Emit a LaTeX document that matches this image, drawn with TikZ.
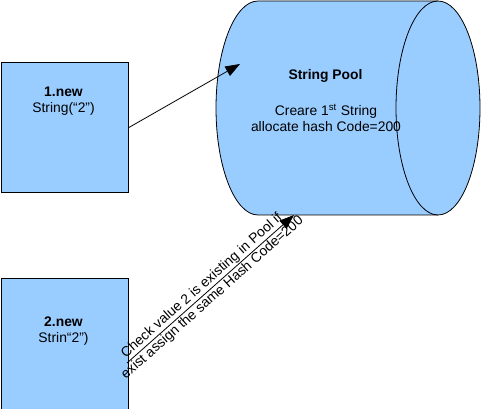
\documentclass[tikz,border=0pt]{standalone}
\usepackage{fontspec}
\setmainfont{Liberation Sans}
\usetikzlibrary{arrows.meta}
\definecolor{poolblue}{HTML}{99CCFF}
\begin{document}
\begin{tikzpicture}[x=0.75pt,y=0.75pt,
  box/.style={draw=black, fill=poolblue, line width=0.75pt, minimum width=95.25pt, inner sep=0pt},
  lbl/.style={font=\fontsize{10.4}{12}\selectfont, align=center, inner sep=0pt},
  conn/.style={line width=0.6pt, -{Triangle[length=11pt,width=8pt]}},
  poolline/.style={draw=black, line width=0.6pt},
]
\useasboundingbox (0,0) rectangle (481,-409);
% boxes
\node[box, minimum height=97.1pt, anchor=north west] (b1) at (0.5,-62.5) {};
\node[box, minimum height=97.9pt, anchor=north west] (b2) at (0.5,-278) {};
\node[lbl] (t1) at (63.5,-101.5) {\textbf{1.new}\\String(“2”)};
\node[lbl] (t2) at (63.5,-331.5) {\textbf{2.new}\\Strin“2”)};
% cylinder
\path[fill=poolblue, poolline] (258,-1) -- (438,-1)
  arc[start angle=90, end angle=-90, x radius=31.5pt, y radius=80.25pt]
  -- (258,-215)
  arc[start angle=270, end angle=90, x radius=31.5pt, y radius=80.25pt] -- cycle;
\draw[poolline] (438,-1) arc[start angle=90, end angle=270, x radius=31.5pt, y radius=80.25pt];
\node[lbl] (pt) at (325.5,-75.5) {\textbf{String Pool}};
\node[lbl] (pb) at (326,-118) {Creare 1\textsuperscript{st} String\\allocate hash Code=200};
% connectors
\coordinate (a1) at (240,-64);
\coordinate (s2) at (127,-363);
\coordinate (a2) at (294,-215);
\draw[conn] (b1.east) -- (a1);
\draw[conn] (s2) -- node[lbl, sloped, pos=0.48] {Check value 2 is existing in Pool if\\exist assign the same Hash Code=200} (a2);
\end{tikzpicture}
\end{document}
